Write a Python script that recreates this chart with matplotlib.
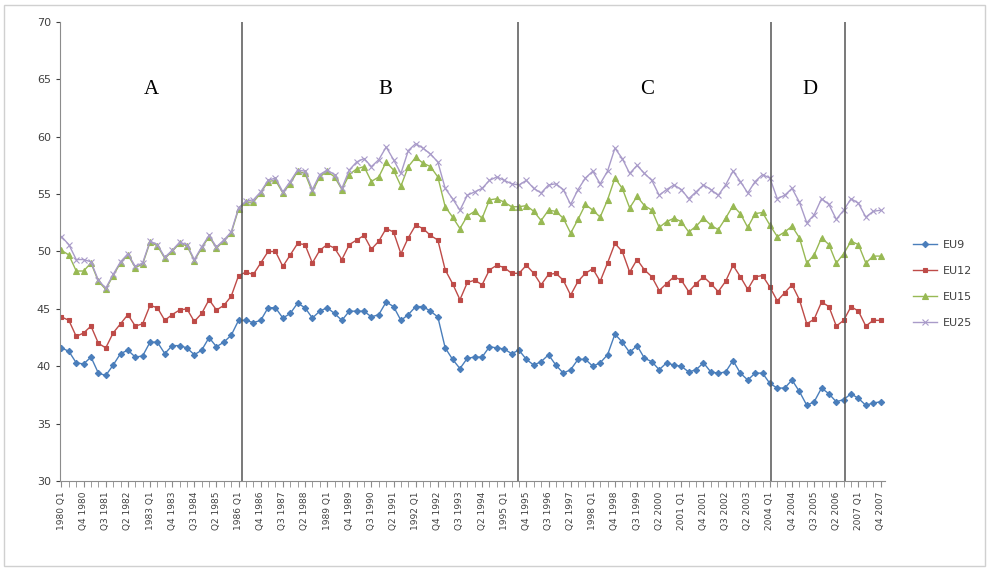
import matplotlib
matplotlib.use("Agg")
import matplotlib.pyplot as plt
from matplotlib.patches import Rectangle

# quarterly series, 1980 Q1 .. 2007 Q4
eu9 = [41.6, 41.3, 40.3, 40.2, 40.8, 39.4, 39.2, 40.1, 41.1, 41.4, 40.8, 40.9, 42.1, 42.1, 41.1, 41.8,
       41.8, 41.6, 41.0, 41.4, 42.5, 41.7, 42.1, 42.7, 44.0,
       44.0, 43.8, 44.0, 45.1, 45.1, 44.2, 44.6, 45.5, 45.1, 44.2, 44.8, 45.1, 44.6, 44.0, 44.8,
       44.8, 44.8, 44.3, 44.5, 45.6, 45.2, 44.0, 44.5, 45.2, 45.2, 44.8, 44.3, 41.6, 40.6, 39.8,
       40.7, 40.8, 40.8, 41.7, 41.6, 41.5, 41.1, 41.4, 40.6, 40.1, 40.4, 41.0, 40.1, 39.4, 39.7,
       40.6, 40.6, 40.0, 40.3, 41.0, 42.8, 42.1, 41.2, 41.8, 40.7, 40.4, 39.7, 40.3, 40.1,
       40.0, 39.5, 39.7, 40.3, 39.5, 39.4, 39.5, 40.5, 39.4, 38.8, 39.4, 39.4, 38.5, 38.1, 38.1,
       38.8, 37.8, 36.6, 36.9, 38.1, 37.6, 36.9, 37.1, 37.6, 37.2, 36.6, 36.8, 36.9]
eu12 = [44.3, 44.0, 42.6, 42.9, 43.5, 42.0, 41.6, 42.9, 43.7, 44.5, 43.5, 43.7, 45.3, 45.1, 44.0, 44.5,
        44.9, 45.0, 43.9, 44.6, 45.8, 44.9, 45.3, 46.1, 47.9,
        48.2, 48.0, 49.0, 50.0, 50.0, 48.7, 49.7, 50.7, 50.6, 49.0, 50.1, 50.6, 50.3, 49.3, 50.6,
        51.0, 51.4, 50.2, 50.9, 52.0, 51.7, 49.8, 51.2, 52.3, 52.0, 51.4, 51.0, 48.4, 47.2, 45.8,
        47.3, 47.5, 47.1, 48.4, 48.8, 48.6, 48.1, 48.1, 48.8, 48.1, 47.1, 48.0, 48.1, 47.5, 46.2,
        47.4, 48.1, 48.5, 47.4, 49.0, 50.7, 50.0, 48.2, 49.3, 48.4,
        47.8, 46.6, 47.2, 47.8, 47.5, 46.5, 47.2, 47.8, 47.2, 46.5, 47.4, 48.8, 47.8, 46.7, 47.8,
        47.9, 46.9, 45.7, 46.4, 47.1, 45.8, 43.7, 44.1, 45.6, 45.2, 43.5, 44.0, 45.2, 44.8, 43.5,
        44.0, 44.0]
eu15 = [50.1, 49.7, 48.3, 48.3, 49.0, 47.4, 46.7, 47.9, 49.0, 49.7, 48.6, 48.9, 50.8, 50.5, 49.4, 50.0,
        50.7, 50.5, 49.2, 50.3, 51.3, 50.3, 50.9, 51.6, 53.7,
        54.3, 54.3, 55.1, 56.1, 56.2, 55.1, 55.9, 57.0, 56.8, 55.2, 56.5, 57.0, 56.5, 55.4, 56.7,
        57.2, 57.4, 56.1, 56.5, 57.8, 57.1, 55.7, 57.4, 58.2, 57.7, 57.4, 56.5, 53.9, 53.0, 52.0,
        53.1, 53.5, 52.9, 54.5, 54.6, 54.3, 53.9, 53.9, 54.0, 53.5, 52.7, 53.6, 53.5, 52.9, 51.6,
        52.8, 54.1, 53.6, 53.0, 54.5, 56.4, 55.5, 53.8, 54.8, 54.0,
        53.6, 52.1, 52.6, 52.9, 52.6, 51.7, 52.2, 52.9, 52.3, 51.9, 52.9, 54.0, 53.3, 52.1, 53.3,
        53.4, 52.3, 51.3, 51.7, 52.2, 51.2, 49.0, 49.7, 51.2, 50.6, 49.0, 49.8, 50.9, 50.6, 49.0,
        49.6, 49.6]
eu25 = [51.3, 50.6, 49.3, 49.3, 49.1, 47.5, 46.8, 48.0, 49.1, 49.8, 48.7, 49.0, 50.9, 50.6, 49.5, 50.1,
        50.8, 50.6, 49.3, 50.4, 51.4, 50.4, 51.0, 51.7, 53.8,
        54.4, 54.5, 55.2, 56.2, 56.4, 55.2, 56.1, 57.1, 57.0, 55.4, 56.7, 57.1, 56.7, 55.5,
        57.1, 57.8, 58.1, 57.4, 58.0, 59.1, 58.0, 56.8, 58.8, 59.4, 59.0, 58.5, 57.8, 55.5, 54.6, 53.6,
        54.9, 55.2, 55.5, 56.2, 56.5, 56.2, 55.9, 55.8, 56.2, 55.5, 55.1, 55.8, 55.9, 55.4, 54.1,
        55.4, 56.4, 57.0, 55.9, 57.0, 59.0, 58.1, 56.8, 57.5, 56.8,
        56.2, 54.9, 55.4, 55.8, 55.4, 54.6, 55.2, 55.8, 55.4, 54.9, 55.8, 57.0, 56.1, 55.1, 56.1,
        56.7, 56.4, 54.6, 54.9, 55.5, 54.3, 52.5, 53.2, 54.6, 54.1, 52.8, 53.6, 54.6, 54.2, 53.0,
        53.5, 53.6]

years = list(range(1980, 2008))
quarters = [f"{y} Q{q}" for y in years for q in range(1, 5)]


def tick_text(k):
    y, q = quarters[k].split()
    return f"{y} {q}" if q == "Q1" else f"{q} {y}"


label_idx = list(range(0, len(quarters), 3))
labels = [tick_text(k) for k in label_idx]

regions = ["A", "B", "C", "D"]
region_x = [12.2, 43.9, 79.4, 101.4]
breaks = [24.4, 61.8, 96.2, 106.2]

series = [("EU9", eu9, "#4A7EBB", "D", 3.2),
          ("EU12", eu12, "#BE4B48", "s", 3.5),
          ("EU15", eu15, "#98B954", "^", 3.8),
          ("EU25", eu25, "#A99BC9", "x", 3.8)]

fig = plt.figure(figsize=(9.89, 5.69), dpi=100)
fig.patches.append(Rectangle((0.004, 0.006), 0.992, 0.985, transform=fig.transFigure,
                             fill=False, edgecolor="#D0D0D0", linewidth=1))
ax = fig.add_axes([60 / 989, 1 - 481 / 569, 825 / 989, 459 / 569])

x = list(range(len(quarters)))
handles = []
for name, vals, col, mk, ms in series:
    ln, = ax.plot(x, vals, color=col, marker=mk, markersize=ms, linewidth=1,
                  markeredgewidth=0.8, label=name)
    handles.append(ln)

for b in breaks:
    ax.axvline(b, color="#555555", linewidth=1.1)

for r, rx in zip(regions, region_x):
    ax.text(rx, 64.1, r, fontsize=15, family="Liberation Serif", ha="center", va="center")

ax.set_ylim(30, 70)
ax.set_xlim(-0.2, 111.6)
ax.set_yticks(range(30, 71, 5))
ax.set_xticks(label_idx)
ax.set_xticklabels(labels, rotation=90, fontsize=6.5, color="#404040")
ax.set_xticks(x, minor=True)
ax.tick_params(axis="y", labelsize=8, colors="#404040", length=3)
ax.tick_params(axis="x", which="both", length=4, colors="#8C8C8C", labelcolor="#404040")
for s in ["top", "right"]:
    ax.spines[s].set_visible(False)
ax.spines["left"].set_color("#8C8C8C")
ax.spines["bottom"].set_color("#8C8C8C")

fig.legend(handles=handles, loc="upper left", bbox_to_anchor=(903 / 989, 1 - 230 / 569),
           frameon=False, fontsize=8, labelspacing=1.45, handlelength=2.2, handletextpad=0.5,
           labelcolor="#404040")

fig.savefig("out.png", dpi=100)
